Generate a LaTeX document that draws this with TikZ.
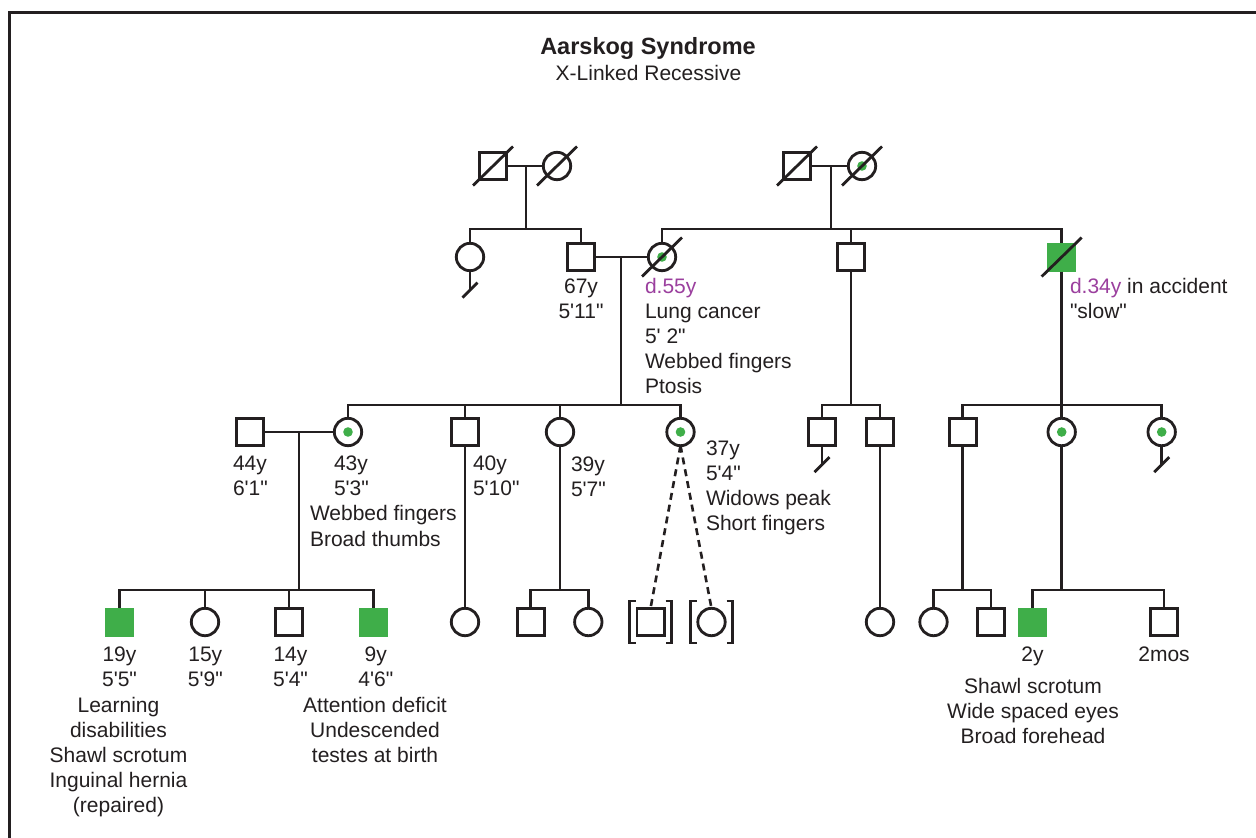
\documentclass[tikz,border=0pt]{standalone}
\usepackage{fontspec}
\setmainfont{Liberation Sans}[Ligatures=TeXOff]
\usetikzlibrary{calc}
\definecolor{ink}{HTML}{231F20}
\definecolor{aff}{HTML}{3FAE49}
\definecolor{pur}{HTML}{9B3F9E}
\begin{document}
\begin{tikzpicture}[x=1pt,y=-1pt,
  color=ink, line width=2.8pt, line join=miter,
  every node/.style={inner sep=0pt, outer sep=0pt},
  male/.style={rectangle, draw=ink, fill=white, minimum size=27.2pt},
  female/.style={circle, draw=ink, fill=white, minimum size=27.4pt},
  affm/.style={rectangle, fill=aff, minimum size=29pt},
  carrier/.style={female, path picture={\fill[aff] (path picture bounding box.center) circle[radius=4.8pt];}},
  lab/.style={font=\fontsize{21}{25}\selectfont, text=ink},
  lw/.style={lab, anchor=base west},
  lc/.style={lab, anchor=base},
  dead/.style={line width=2.8pt},
  dashline/.style={dash pattern=on 7pt off 5pt, line width=2.6pt}]
\useasboundingbox (0,0) rectangle (1256,838);
\fill[white] (0,0) rectangle (1256,838);
\draw[line width=2.9pt] (9.7,838) -- (9.7,12.8) -- (1256,12.8);

% title
\node[font=\bfseries\fontsize{23.5}{28}\selectfont, anchor=base] (title) at (648,54) {Aarskog Syndrome};
\node[lc] (subtitle) at (648.5,80) {X-Linked Recessive};

% generation I
\node[male] (m1) at (493,166) {};
\node[female] (f1) at (557,166) {};
\node[male] (m2) at (797,166) {};
\node[carrier] (f2) at (862,166) {};
\coordinate (c1) at (526,166);
\coordinate (c2) at (831,166);
\coordinate (s1) at (526,229);
\coordinate (s2) at (831,229);

% generation II
\node[female] (f3) at (470,257) {};
\node[male] (m3) at (581,257) {};
\node[carrier] (f4) at (662,257) {};
\node[male] (m4) at (851,257) {};
\node[affm] (a5) at (1061.7,257) {};
\coordinate (c3) at (621,257);
\coordinate (s3) at (621,405);
\coordinate (s4) at (851,405);
\coordinate (s5) at (1061.7,405);

% generation III
\node[male] (m7) at (250,432) {};
\node[carrier] (f8) at (348,432) {};
\node[male] (m9) at (465,432) {};
\node[female] (f10) at (560,432) {};
\node[carrier] (f11) at (680.5,432) {};
\node[male] (m12) at (822,432) {};
\node[male] (m13) at (880,432) {};
\node[male] (m14) at (962.7,432) {};
\node[carrier] (f15) at (1061.7,432) {};
\node[carrier] (f16) at (1161.7,432) {};
\coordinate (c4) at (299,432);
\coordinate (s6) at (299,590);
\coordinate (s7) at (560,590);
\coordinate (s8) at (962.7,590);
\coordinate (s9) at (1061.7,590);

% generation IV
\node[affm] (a17) at (119.5,622) {};
\node[female] (f18) at (205,622) {};
\node[male] (m19) at (289,622) {};
\node[affm] (a20) at (373.5,622) {};
\node[female] (f21) at (465,622) {};
\node[male] (m22) at (530.7,622) {};
\node[female] (f23) at (588.3,622) {};
\node[male] (m24) at (650.5,622) {};
\node[female] (f25) at (711.5,622) {};
\node[female] (f26) at (880,622) {};
\node[female] (f27) at (933.5,622) {};
\node[male] (m28) at (991,622) {};
\node[affm] (a29) at (1032.3,622) {};
\node[male] (m30) at (1164,622) {};

% connectors generation I -> II
\draw (m1) -- (f1);
\draw (c1) -- (s1);
\draw (f3.north) |- (s1) -| (m3.north);
\draw (m2) -- (f2);
\draw (c2) -- (s2);
\draw (f4.north) |- (s2) -| (a5.north);
\draw (m4.north) -- (m4.north |- s2);

% generation II -> III
\draw (m3) -- (f4);
\draw (c3) -- (s3);
\draw (f8.north) |- (s3) -| (f11.north);
\draw (m9.north) -- (m9.north |- s3);
\draw (f10.north) -- (f10.north |- s3);
\draw (m4.south) -- (s4);
\draw (m12.north) |- (s4) -| (m13.north);
\draw (a5.south) -- (s5);
\draw (m14.north) |- (s5) -| (f16.north);
\draw (f15.north) -- (s5);

% generation III -> IV
\draw (m7) -- (f8);
\draw (c4) -- (s6);
\draw (a17.north) |- (s6) -| (a20.north);
\draw (f18.north) -- (f18.north |- s6);
\draw (m19.north) -- (m19.north |- s6);
\draw (m9.south) -- (f21.north);
\draw (f10.south) -- (s7);
\draw (m22.north) |- (s7) -| (f23.north);
\draw[dashline] (f11.south) -- (m24.north);
\draw[dashline] (f11.south) -- (f25.north);
\draw (m13.south) -- (f26.north);
\draw (m14.south) -- (s8);
\draw (f27.north) |- (s8) -| (m28.north);
\draw (f15.south) -- (s9);
\draw (a29.north) |- (s9) -| (m30.north);

% no offspring
\draw (f3.south) -- ++(0,19.5) coordinate (e3);
\draw (e3) ++(-7.5,7.5) -- ++(15,-15);
\draw (m12.south) -- ++(0,19) coordinate (e12);
\draw (e12) ++(-7.5,7.5) -- ++(15,-15);
\draw (f16.south) -- ++(0,19) coordinate (e16);
\draw (e16) ++(-7.5,7.5) -- ++(15,-15);

% brackets (adopted)
\foreach \n in {m24,f25}{
  \draw ([shift={(-15,-21)}]\n.center) -- ++(-6,0) -- ++(0,42) -- ++(6,0);
  \draw ([shift={(15,-21)}]\n.center) -- ++(6,0) -- ++(0,42) -- ++(-6,0);
}

% deceased
\foreach \n in {m1,f1,m2,f2,f4,a5}{
  \draw[dead] (\n.center) ++(-20,19.5) -- ++(40,-39);
}

% labels generation II
\node[lc] (t1) at (581,293.3) {67y};
\node[lc] (t2) at (581,318.5) {5'11"};
\node[lw, text=pur] (t3) at (645,293.3) {d.55y};
\node[lw] (t4) at (645,318.5) {Lung cancer};
\node[lw] (t5) at (645,343.5) {5' 2"};
\node[lw] (t6) at (645,368.5) {Webbed fingers};
\node[lw] (t7) at (645,393.5) {Ptosis};
\node[lw] (t8) at (1070,293) {\textcolor{pur}{d.34y} in accident};
\node[lw] (t9) at (1070,318.3) {"slow"};

% labels generation III
\node[lw] (t10) at (233,470.5) {44y};
\node[lw] (t11) at (233,495.5) {6'1"};
\node[lw] (t12) at (334,470.5) {43y};
\node[lw] (t13) at (334,495.5) {5'3"};
\node[lw] (t14) at (310,520.5) {Webbed fingers};
\node[lw] (t15) at (310,546) {Broad thumbs};
\node[lw] (t16) at (473,470.5) {40y};
\node[lw] (t17) at (473,495.5) {5'10"};
\node[lw] (t18) at (571,471) {39y};
\node[lw] (t19) at (571,496) {5'7"};
\node[lw] (t20) at (706,455) {37y};
\node[lw] (t21) at (706,480) {5'4"};
\node[lw] (t22) at (706,505.5) {Widows peak};
\node[lw] (t23) at (706,530.5) {Short fingers};

% labels generation IV
\node[lc] (t24) at (119.5,661.5) {19y};
\node[lc] (t25) at (119.5,686.5) {5'5"};
\node[lc] (t26) at (118.5,712) {Learning};
\node[lc] (t27) at (118.5,737) {disabilities};
\node[lc] (t28) at (118.5,762.3) {Shawl scrotum};
\node[lc] (t29) at (118.5,787.5) {Inguinal hernia};
\node[lc] (t30) at (118.5,812.5) {(repaired)};
\node[lc] (t31) at (205.3,661.5) {15y};
\node[lc] (t32) at (205.3,686.5) {5'9"};
\node[lc] (t33) at (290.5,661.5) {14y};
\node[lc] (t34) at (290.5,686.5) {5'4"};
\node[lc] (t35) at (375.8,661.5) {9y};
\node[lc] (t36) at (375.8,686.5) {4'6"};
\node[lc] (t37) at (375,712) {Attention deficit};
\node[lc] (t38) at (375,737) {Undescended};
\node[lc] (t39) at (375,762.3) {testes at birth};
\node[lc] (t40) at (1032.5,661.5) {2y};
\node[lc] (t41) at (1164,661.5) {2mos};
\node[lc] (t42) at (1033,693.3) {Shawl scrotum};
\node[lc] (t43) at (1033,718.3) {Wide spaced eyes};
\node[lc] (t44) at (1033,743.3) {Broad forehead};
\end{tikzpicture}
\end{document}
